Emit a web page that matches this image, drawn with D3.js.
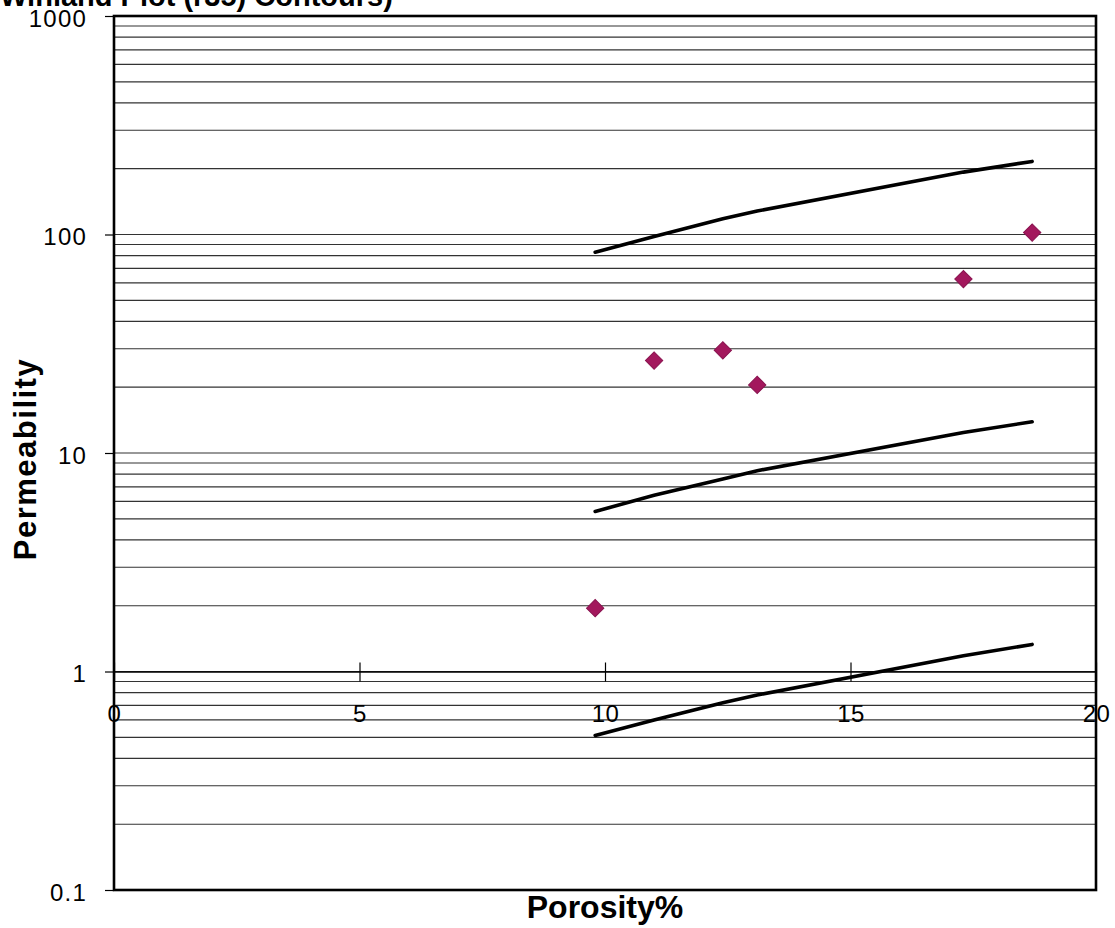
<!DOCTYPE html>
<html>
<head>
<meta charset="utf-8">
<script src="https://cdn.jsdelivr.net/npm/d3@7"></script>
<style>
  html, body { margin: 0; padding: 0; background: #fff; }
  svg { display: block; }
  text { font-family: "Liberation Sans", Arial, Helvetica, sans-serif; fill: #000; }
</style>
</head>
<body>
<svg id="chart" width="1115" height="928"></svg>
<script>
// Core samples: porosity (%) and permeability (mD)
const samplePorosity = [9.8, 11.0, 12.4, 13.1, 17.3, 18.7];
const samplePerm = [1.95, 26.5, 29.5, 20.5, 62.5, 102];

// Winland r35 contour lines, sampled at the same porosities
const contourPorosity = [9.8, 11.0, 12.4, 13.1, 17.3, 18.7];
const contourHigh = [83, 98, 118, 128, 193, 216];
const contourMid = [5.4, 6.4, 7.6, 8.3, 12.4, 13.9];
const contourLow = [0.51, 0.60, 0.72, 0.78, 1.18, 1.33];

// Axis ticks
const xTicks = [0, 5, 10, 15, 20];
const yMajorTicks = [0.1, 1, 10, 100, 1000];
const yTickLabels = ["0.1", "1", "10", "100", "1000"];

const svg = d3.select("#chart");
const plot = { left: 114, right: 1096, top: 16, bottom: 890 };
const tickFont = "'Liberation Sans', Arial, sans-serif";

const x = d3.scaleLinear().domain([0, 20]).range([plot.left, plot.right]);
const y = d3.scaleLog().domain([0.1, 1000]).range([plot.bottom, plot.top]);

// Horizontal grid at every 1..9 multiple of each decade
const gridVals = [];
for (let d = 0.1; d < 1000; d *= 10) {
  for (let m = 1; m <= 9; m++) gridVals.push(+(m * d).toPrecision(3));
}
svg.append("g")
  .selectAll("line")
  .data(gridVals.filter(v => v > 0.1))
  .join("line")
  .attr("x1", plot.left).attr("x2", plot.right)
  .attr("y1", d => y(d)).attr("y2", d => y(d))
  .attr("stroke", "#333").attr("stroke-width", 1.2);

// Y axis with major ticks
const yAxis = d3.axisLeft(y)
  .tickValues(yMajorTicks)
  .tickFormat((d, i) => yTickLabels[i])
  .tickSize(9).tickPadding(18);
const gy = svg.append("g").attr("transform", `translate(${plot.left},0)`).call(yAxis);
gy.select(".domain").remove();
gy.selectAll("line").attr("stroke", "#000").attr("stroke-width", 1.2);
gy.selectAll("text")
  .style("font-size", "24px").style("letter-spacing", "1.2px")
  .style("font-family", tickFont)
  .attr("dy", "0.42em");

// X axis crossing at permeability = 1
const xAxis = d3.axisBottom(x).tickValues(xTicks).tickSize(0).tickPadding(0);
const gx = svg.append("g").attr("transform", `translate(0,${y(1)})`).call(xAxis);
gx.select(".domain").attr("stroke", "#000").attr("stroke-width", 1.3);
gx.selectAll(".tick line").remove();
gx.selectAll(".tick").append("line")
  .attr("y1", -9).attr("y2", 10).attr("stroke", "#000").attr("stroke-width", 1.2);
gx.selectAll("text")
  .style("font-size", "24px").style("letter-spacing", "0.5px")
  .style("font-family", tickFont)
  .attr("y", 50).attr("dy", null);

// Plot frame
svg.append("rect")
  .attr("x", plot.left).attr("y", plot.top)
  .attr("width", plot.right - plot.left).attr("height", plot.bottom - plot.top)
  .attr("fill", "none").attr("stroke", "#000").attr("stroke-width", 2.6);

// Contour lines
const line = d3.line().x(d => x(d[0])).y(d => y(d[1]));
[contourHigh, contourMid, contourLow].forEach(series => {
  svg.append("path")
    .datum(contourPorosity.map((p, i) => [p, series[i]]))
    .attr("d", line)
    .attr("fill", "none").attr("stroke", "#000").attr("stroke-width", 3.6)
    .attr("stroke-linecap", "round");
});

// Sample markers (diamonds)
const diamond = d3.symbol().type(d3.symbolSquare).size(150);
svg.append("g")
  .selectAll("path")
  .data(samplePorosity.map((p, i) => [p, samplePerm[i]]))
  .join("path")
  .attr("d", diamond)
  .attr("transform", d => `translate(${x(d[0])},${y(d[1])}) rotate(45)`)
  .attr("fill", "#a3185d").attr("stroke", "#8a1450").attr("stroke-width", 1);

// Titles
svg.append("text")
  .attr("x", 0).attr("y", 6)
  .style("font-size", "29px").style("font-weight", "bold")
  .text("Winland Plot (r35) Contours)");

svg.append("text")
  .attr("transform", `translate(36,459) rotate(-90)`)
  .attr("text-anchor", "middle")
  .style("font-size", "31px").style("font-weight", "bold").style("letter-spacing", "1.5px")
  .text("Permeability");

svg.append("text")
  .attr("x", 605).attr("y", 918)
  .attr("text-anchor", "middle")
  .style("font-size", "32px").style("font-weight", "bold")
  .text("Porosity%");
</script>
</body>
</html>
